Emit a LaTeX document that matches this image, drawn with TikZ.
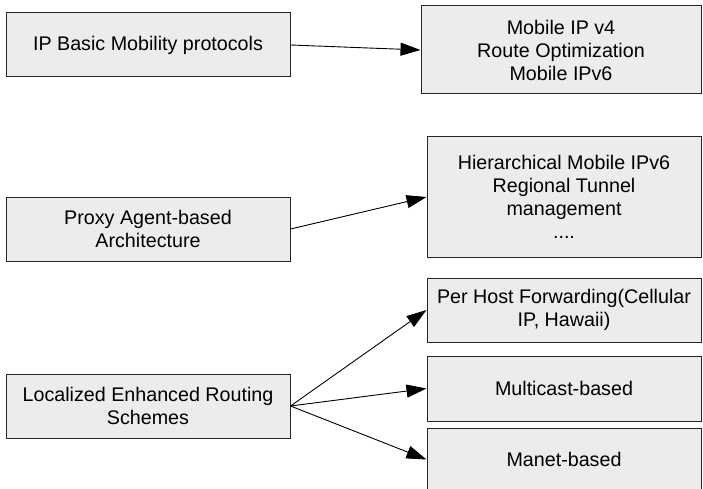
\documentclass[tikz,border=0pt]{standalone}
\usepackage{fontspec}
\setmainfont{Liberation Sans}
\usetikzlibrary{arrows.meta}
\definecolor{boxgray}{RGB}{236,236,236}
\begin{document}
\begin{tikzpicture}
[x=1pt,y=-1pt,
  font=\fontsize{19.7}{23}\selectfont,
  boxdecorate/.style={shape=rectangle,draw=black!85,fill=boxgray,line width=1pt,
    inner sep=2pt,align=center,minimum width=#1},
  arrowdecorate/.style={-{Triangle[length=20pt,width=13pt]},line width=0.9pt}]
\useasboundingbox (0,0) rectangle (703,489);
%% schemes on the left
\foreach \nodename/\y/\txt in {basic/45/{IP Basic Mobility protocols},
    proxy/229/{Proxy Agent-based\\Architecture},
    local/406/{Localized Enhanced Routing\\Schemes}} {
  \node (\nodename) at (148,\y) [boxdecorate=284pt,minimum height=64pt] {\txt};
}
%% protocols on the right
\foreach \nodename/\x/\y/\w/\h/\txt in {mip/561/50/280/88/{Mobile IP v4\\Route Optimization\\Mobile IPv6},
    hier/564/197/274/120/{Hierarchical Mobile IPv6\\Regional Tunnel\\management\\....},
    perhost/564/310/274/64/{Per Host Forwarding(Cellular\\IP, Hawaii)},
    mcast/564/388.5/274/65/{Multicast-based},
    manet/564/459.5/274/63/{Manet-based}} {
  \node (\nodename) at (\x,\y) [boxdecorate=\w pt,minimum height=\h pt] {\txt};
}
%% arrows
\path
\foreach \startnode/\endnode in {basic/mip, proxy/hier, local/perhost, local/mcast, local/manet} {
  (\startnode.east) edge[arrowdecorate] (\endnode.west)
};
\end{tikzpicture}
\end{document}
